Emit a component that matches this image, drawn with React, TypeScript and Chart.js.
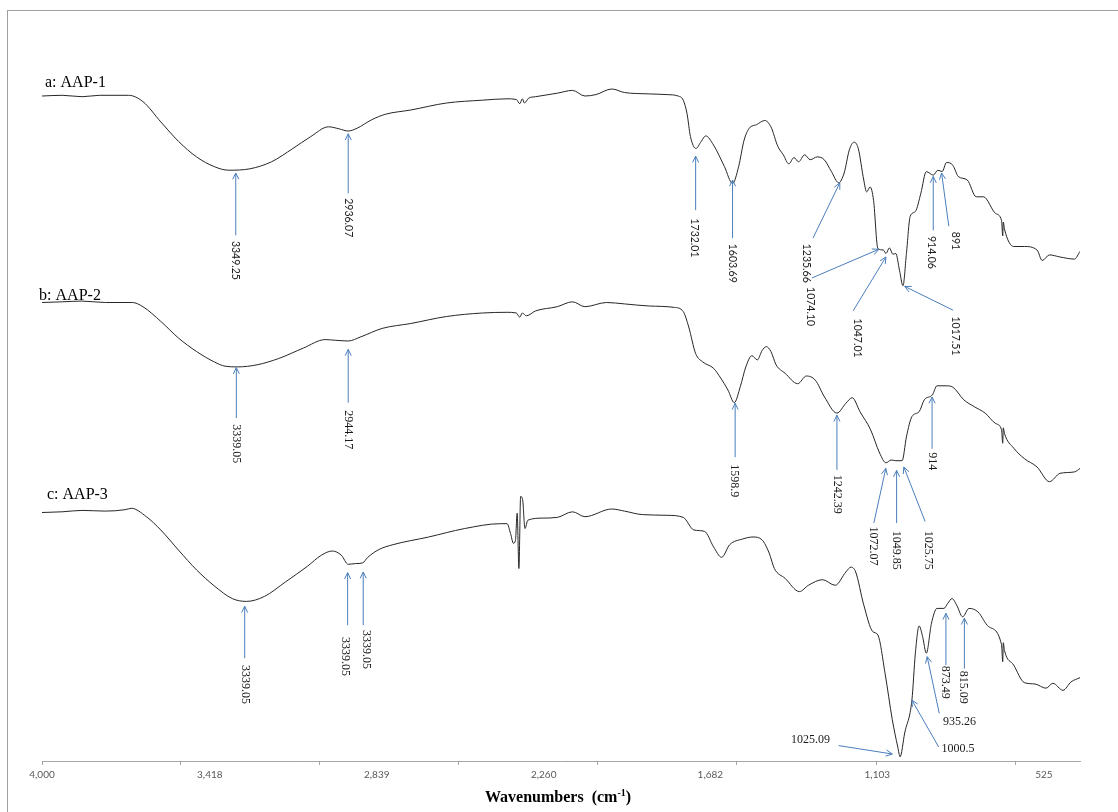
import React, { useEffect, useRef } from 'react';
import { Chart, registerables } from 'chart.js';

Chart.register(...registerables);

// ---- Spectrum a: AAP-1 ----
const AAP1_WAVENUMBERS = [
  4000, 3930, 3861, 3800, 3700, 3650, 3588, 3526, 3464, 3402, 3353, 3279, 3204, 3130, 3068, 3006, 2969, 2938, 2907,
  2857, 2808, 2721, 2597, 2473, 2387, 2355, 2343, 2334, 2327, 2312, 2288, 2213, 2160, 2117, 2079, 2024, 1980, 1894,
  1832, 1794, 1776, 1763, 1751, 1732, 1714, 1698, 1671, 1633, 1605, 1584, 1565, 1547, 1522, 1493, 1472, 1448, 1429,
  1410, 1392, 1376, 1355, 1336, 1311, 1287, 1262, 1237, 1218, 1200, 1184, 1169, 1150, 1140, 1128, 1116, 1101, 1082,
  1073, 1061, 1049, 1039, 1026, 1014, 1002, 989, 971, 952, 933, 909, 893, 878, 863, 841, 822, 791, 760, 735, 692,
  672, 668, 666, 662, 630, 593, 549, 531, 506, 469, 419, 400,
];
const AAP1_VALUES = [
  95.0, 95.1, 94.9, 95.1, 95.1, 94.2, 91.3, 88.5, 86.3, 84.9, 84.4, 84.6, 85.6, 87.5, 89.2, 90.6, 90.3, 90.0, 90.4,
  91.6, 92.4, 93.0, 94.0, 94.4, 94.6, 94.5, 93.9, 94.6, 94.0, 94.7, 94.9, 95.4, 95.8, 95.0, 95.2, 96.0, 95.5, 95.3,
  95.2, 95.0, 94.4, 92.5, 89.2, 87.5, 88.5, 89.3, 88.0, 84.9, 82.5, 84.9, 88.7, 90.4, 90.9, 91.5, 90.6, 87.8, 86.6,
  85.3, 86.2, 85.6, 86.6, 85.9, 86.3, 85.9, 84.2, 82.6, 84.0, 87.3, 88.4, 87.5, 83.0, 81.3, 82.0, 80.1, 73.2, 73.0,
  72.5, 73.3, 72.4, 72.5, 70.1, 67.9, 72.5, 77.8, 78.5, 81.1, 84.2, 83.7, 84.4, 84.2, 85.5, 85.1, 83.5, 83.0, 80.6,
  80.6, 78.2, 77.2, 75.0, 77.0, 76.0, 73.5, 73.5, 73.0, 71.5, 72.3, 72.0, 71.7, 72.8,
];

// ---- Spectrum b: AAP-2 ----
const AAP2_WAVENUMBERS = [
  4000, 3930, 3861, 3780, 3687, 3650, 3588, 3526, 3464, 3402, 3365, 3322, 3254, 3179, 3093, 3018, 2981, 2938, 2894,
  2820, 2721, 2597, 2473, 2387, 2355, 2343, 2334, 2320, 2288, 2213, 2160, 2117, 2042, 1980, 1894, 1807, 1776, 1757,
  1733, 1708, 1671, 1646, 1621, 1599, 1578, 1559, 1538, 1519, 1503, 1488, 1472, 1454, 1423, 1379, 1349, 1318, 1286,
  1243, 1212, 1190, 1163, 1126, 1095, 1073, 1055, 1039, 1017, 1002, 983, 958, 940, 912, 896, 865, 841, 803, 766, 729,
  692, 672, 668, 666, 662, 630, 593, 549, 506, 469, 419, 400,
];
const AAP2_VALUES = [
  65.5, 65.6, 65.7, 65.5, 65.5, 64.9, 62.8, 60.4, 58.5, 57.0, 56.4, 56.3, 56.6, 57.5, 59.0, 60.2, 60.1, 60.0, 60.6,
  61.8, 62.5, 63.5, 64.0, 64.1, 64.0, 63.4, 64.0, 63.6, 64.3, 64.9, 65.6, 64.9, 65.5, 65.3, 65.0, 64.8, 64.2, 62.0,
  58.2, 57.0, 56.1, 54.7, 53.0, 51.2, 53.5, 56.3, 57.9, 57.3, 58.6, 59.2, 58.5, 56.6, 55.4, 53.9, 55.0, 54.4, 52.0,
  49.7, 51.1, 51.9, 49.9, 47.3, 44.0, 42.6, 43.0, 42.9, 42.9, 46.3, 49.2, 49.9, 51.6, 52.3, 53.6, 53.6, 53.4, 51.6,
  50.6, 49.7, 48.2, 47.3, 45.4, 47.6, 46.8, 44.7, 43.2, 42.0, 39.9, 41.1, 41.3, 41.8,
];

// ---- Spectrum c: AAP-3 ----
const AAP3_WAVENUMBERS = [
  4000, 3930, 3861, 3780, 3712, 3690, 3638, 3588, 3526, 3464, 3402, 3340, 3291, 3229, 3155, 3080, 3031, 2993, 2962,
  2938, 2913, 2888, 2870, 2832, 2783, 2659, 2535, 2411, 2387, 2375, 2365, 2358, 2352, 2346, 2340, 2333, 2325, 2315,
  2263, 2213, 2160, 2117, 2024, 1980, 1918, 1832, 1776, 1739, 1702, 1671, 1643, 1615, 1571, 1534, 1503, 1478, 1460,
  1423, 1373, 1342, 1293, 1249, 1212, 1194, 1178, 1150, 1119, 1101, 1076, 1051, 1032, 1024, 1008, 983, 971, 958, 946,
  933, 915, 896, 872, 859, 844, 828, 807, 785, 754, 717, 672, 668, 666, 662, 630, 593, 556, 518, 494, 459, 431, 400,
];
const AAP3_VALUES = [
  35.5, 35.6, 35.8, 35.7, 35.9, 36.1, 34.9, 33.0, 30.1, 27.3, 25.0, 23.2, 22.8, 23.5, 25.6, 27.8, 29.4, 30.0, 29.4,
  28.1, 28.2, 28.3, 29.1, 30.2, 30.9, 32.0, 33.2, 33.9, 33.9, 32.5, 31.1, 31.5, 35.4, 27.5, 37.8, 37.3, 33.2, 34.4,
  34.7, 34.8, 35.6, 34.9, 36.0, 35.7, 35.2, 35.1, 34.8, 33.0, 32.8, 30.6, 29.1, 30.9, 31.7, 32.0, 31.6, 29.7, 27.5,
  26.1, 24.2, 25.1, 25.9, 25.1, 27.0, 27.7, 27.0, 22.3, 18.5, 18.0, 12.5, 5.9, 2.0, 0.6, 4.0, 8.7, 15.4, 19.3, 17.8,
  15.4, 19.7, 21.8, 21.8, 22.5, 23.2, 22.3, 20.6, 21.8, 21.3, 19.2, 16.6, 14.2, 16.9, 15.8, 13.7, 11.2, 11.0, 10.4,
  11.1, 10.1, 11.3, 11.9,
];

// ---- Axis ticks ----
const TICK_LABEL_VALUES = [4000, 3418, 2839, 2260, 1682, 1103, 525];
const TICK_MARK_VALUES = [4000, 3518, 3036, 2554, 2072, 1590, 1107, 625];

// ---- Series names (anchor in wavenumber / value units) ----
const SERIES_NAMES = ['a: AAP-1', 'b: AAP-2', 'c: AAP-3'];
const SERIES_NAME_ANCHORS = [
  [3989.6, 96.3],
  [4010, 65.9],
  [3982.7, 37.4],
];

// ---- Peak annotations: tip / tail of arrow and label anchor, in wavenumber / value units ----
type Ann = { s: number; text: string; tip: number[]; tail: number[]; at: number[]; dir?: 'h' | 'v'; align?: 'left' | 'right' };
const PEAKS_A: Ann[] = [
  { s: 0, text: '3349.25', tip: [3328, 84.0], tail: [3328, 75.1], at: [3328, 74.3] },
  { s: 0, text: '2936.07', tip: [2938, 89.6], tail: [2938, 81.1], at: [2938, 80.4] },
  { s: 0, text: '1732.01', tip: [1733, 86.4], tail: [1733, 78.7], at: [1738, 77.5] },
  { s: 0, text: '1603.69', tip: [1605, 83.0], tail: [1605, 74.7], at: [1605, 73.9] },
  { s: 0, text: '1235.66', tip: [1233, 82.6], tail: [1326, 74.7], at: [1349, 73.9] },
  { s: 0, text: '1074.10', tip: [1098, 73.1], tail: [1330, 69.0], at: [1336, 67.7] },
  { s: 0, text: '1047.01', tip: [1073, 72.0], tail: [1187, 64.3], at: [1173, 63.2] },
  { s: 0, text: '1017.51', tip: [1008, 67.8], tail: [840, 64.4], at: [831, 63.5] },
  { s: 0, text: '914.06', tip: [909, 83.5], tail: [909, 75.8], at: [915, 75.0] },
  { s: 0, text: '891', tip: [880, 84.0], tail: [855, 76.4], at: [831, 75.6] },
];
const PEAKS_B: Ann[] = [
  { s: 1, text: '3339.05', tip: [3326, 56.2], tail: [3326, 49.0], at: [3326, 48.1] },
  { s: 1, text: '2944.17', tip: [2938, 58.8], tail: [2938, 51.2], at: [2938, 50.1] },
  { s: 1, text: '1598.9', tip: [1596, 51.1], tail: [1596, 43.4], at: [1598, 42.4] },
  { s: 1, text: '1242.39', tip: [1243, 49.4], tail: [1243, 41.6], at: [1243, 40.9] },
  { s: 1, text: '914', tip: [913, 52.0], tail: [913, 44.6], at: [913, 44.1] },
  { s: 1, text: '1072.07', tip: [1073.5, 41.8], tail: [1115, 34.0], at: [1119, 33.5] },
  { s: 1, text: '1049.85', tip: [1036, 41.5], tail: [1036, 34.0], at: [1036, 32.9] },
  { s: 1, text: '1025.75', tip: [1011, 42.0], tail: [937, 34.2], at: [925, 32.9] },
];
const PEAKS_C: Ann[] = [
  { s: 2, text: '3339.05', tip: [3297, 22.1], tail: [3297, 14.7], at: [3297, 13.7] },
  { s: 2, text: '3339.05', tip: [2940, 26.9], tail: [2940, 19.4], at: [2947, 17.7] },
  { s: 2, text: '3339.05', tip: [2886, 27.0], tail: [2886, 19.4], at: [2876, 18.7] },
  { s: 2, text: '873.49', tip: [865, 21.1], tail: [865, 13.7], at: [868, 13.6] },
  { s: 2, text: '815.09', tip: [801, 20.4], tail: [801, 13.2], at: [806, 12.9] },
  { s: 2, text: '935.26', tip: [930, 14.9], tail: [888, 6.8], at: [875, 5.6], dir: 'h', align: 'left' },
  { s: 2, text: '1000.5', tip: [983, 8.7], tail: [890, 2.0], at: [880, 1.7], dir: 'h', align: 'left' },
  { s: 2, text: '1025.09', tip: [1051, 1.0], tail: [1237, 2.2], at: [1267, 3.0], dir: 'h', align: 'right' },
];

const LINE_COLOR = '#262626';
const ARROW_COLOR = '#4a7ebb';
const AXIS_COLOR = '#a6a6a6';
const SERIF = '"Liberation Serif", "Times New Roman", serif';
const SANS = 'Lato, "Liberation Sans", sans-serif';

const toPoints = (ws: number[], vs: number[]) => ws.map((w, i) => ({ x: w, y: vs[i] }));

export default function App() {
  const canvasRef = useRef<HTMLCanvasElement>(null);

  useEffect(() => {
    const canvas = canvasRef.current;
    if (!canvas) return;

    const annotationPlugin = {
      id: 'ftirAnnotations',
      afterDatasetsDraw(chart: any) {
        const { ctx, scales, chartArea } = chart;
        const xs = scales.x;
        const ys = scales.y;
        const px = (p: number[]) => [xs.getPixelForValue(p[0]), ys.getPixelForValue(p[1])];
        ctx.save();

        // series names
        ctx.fillStyle = '#000';
        ctx.font = `16px ${SERIF}`;
        ctx.textAlign = 'left';
        ctx.textBaseline = 'alphabetic';
        SERIES_NAMES.forEach((name, i) => {
          const [a, b] = px(SERIES_NAME_ANCHORS[i]);
          ctx.fillText(name, a, b);
        });

        // peak arrows and labels
        [...PEAKS_A, ...PEAKS_B, ...PEAKS_C].forEach((ann) => {
          const [tx, ty] = px(ann.tip);
          const [sx, sy] = px(ann.tail);
          ctx.strokeStyle = ARROW_COLOR;
          ctx.lineWidth = 1;
          ctx.beginPath();
          ctx.moveTo(sx, sy);
          ctx.lineTo(tx, ty);
          ctx.stroke();
          const ang = Math.atan2(ty - sy, tx - sx);
          const L = 7;
          const spread = 0.45;
          ctx.beginPath();
          ctx.moveTo(tx - L * Math.cos(ang - spread), ty - L * Math.sin(ang - spread));
          ctx.lineTo(tx, ty);
          ctx.lineTo(tx - L * Math.cos(ang + spread), ty - L * Math.sin(ang + spread));
          ctx.stroke();

          const [lx, ly] = px(ann.at);
          ctx.fillStyle = '#1a1a1a';
          ctx.font = ann.s === 0 ? `10.5px ${SANS}` : `12px ${SERIF}`;
          if (ann.dir === 'h') {
            ctx.textAlign = ann.align || 'left';
            ctx.textBaseline = 'middle';
            ctx.fillText(ann.text, lx, ly);
          } else {
            ctx.save();
            ctx.translate(lx, ly);
            ctx.rotate(Math.PI / 2);
            ctx.textAlign = 'left';
            ctx.textBaseline = 'middle';
            ctx.fillText(ann.text, 0, 0);
            ctx.restore();
          }
        });

        // axis title with superscript
        const main = 'Wavenumbers  (cm';
        const sup = '-1';
        const close = ')';
        const mainFont = `bold 16px ${SERIF}`;
        const supFont = `bold 10px ${SERIF}`;
        ctx.font = mainFont;
        const wMain = ctx.measureText(main).width;
        const wClose = ctx.measureText(close).width;
        ctx.font = supFont;
        const wSup = ctx.measureText(sup).width;
        const total = wMain + wSup + wClose;
        const cx = (chartArea.left + chartArea.right) / 2 - 3;
        const base = chartArea.bottom + 41;
        let x0 = cx - total / 2;
        ctx.fillStyle = '#000';
        ctx.textAlign = 'left';
        ctx.textBaseline = 'alphabetic';
        ctx.font = mainFont;
        ctx.fillText(main, x0, base);
        x0 += wMain;
        ctx.font = supFont;
        ctx.fillText(sup, x0, base - 6);
        x0 += wSup;
        ctx.font = mainFont;
        ctx.fillText(close, x0, base);

        ctx.restore();
      },
    };

    const allTicks = Array.from(new Set([...TICK_MARK_VALUES, ...TICK_LABEL_VALUES])).sort((a, b) => b - a);

    const dataset = (label: string, ws: number[], vs: number[]) => ({
      label,
      data: toPoints(ws, vs),
      borderColor: LINE_COLOR,
      borderWidth: 1,
      pointRadius: 0,
      fill: false,
      cubicInterpolationMode: 'monotone' as const,
    });

    const chart = new Chart(canvas, {
      type: 'line',
      data: {
        datasets: [
          dataset('AAP-1', AAP1_WAVENUMBERS, AAP1_VALUES),
          dataset('AAP-2', AAP2_WAVENUMBERS, AAP2_VALUES),
          dataset('AAP-3', AAP3_WAVENUMBERS, AAP3_VALUES),
        ],
      },
      options: {
        animation: false,
        responsive: false,
        devicePixelRatio: 1,
        parsing: false,
        normalized: true,
        layout: { padding: { left: 42, right: 38, top: 61, bottom: 27 } },
        plugins: { legend: { display: false }, tooltip: { enabled: false }, title: { display: false } },
        scales: {
          x: {
            type: 'linear',
            reverse: true,
            min: 400,
            max: 4000,
            afterBuildTicks: (axis: any) => {
              axis.ticks = allTicks.map((v) => ({ value: v }));
            },
            ticks: {
              autoSkip: false,
              maxRotation: 0,
              minRotation: 0,
              padding: 4,
              color: '#595959',
              font: { family: SANS, size: 10 },
              callback: (value: any) =>
                TICK_LABEL_VALUES.includes(Number(value)) ? Number(value).toLocaleString('en-US') : '',
            },
            grid: {
              drawOnChartArea: false,
              drawTicks: true,
              tickLength: 4,
              tickWidth: 1,
              tickColor: (ctx: any) =>
                ctx.tick && TICK_MARK_VALUES.includes(ctx.tick.value) ? AXIS_COLOR : 'rgba(0,0,0,0)',
            },
            border: { display: true, color: AXIS_COLOR, width: 1 },
          },
          y: {
            type: 'linear',
            display: false,
            min: 0,
            max: 100,
          },
        },
      },
      plugins: [annotationPlugin],
    });

    return () => {
      chart.destroy();
    };
  }, []);

  return (
    <div style={{ position: 'fixed', left: 0, top: 0, width: 1118, height: 812, overflow: 'hidden', background: '#fff' }}>
      <div
        style={{
          position: 'absolute',
          left: 7,
          top: 10,
          width: 1200,
          height: 900,
          border: '1px solid #a0a0a0',
          boxSizing: 'border-box',
        }}
      />
      <canvas
        ref={canvasRef}
        width={1118}
        height={812}
        style={{ position: 'absolute', left: 0, top: 0, width: 1118, height: 812 }}
      />
    </div>
  );
}
